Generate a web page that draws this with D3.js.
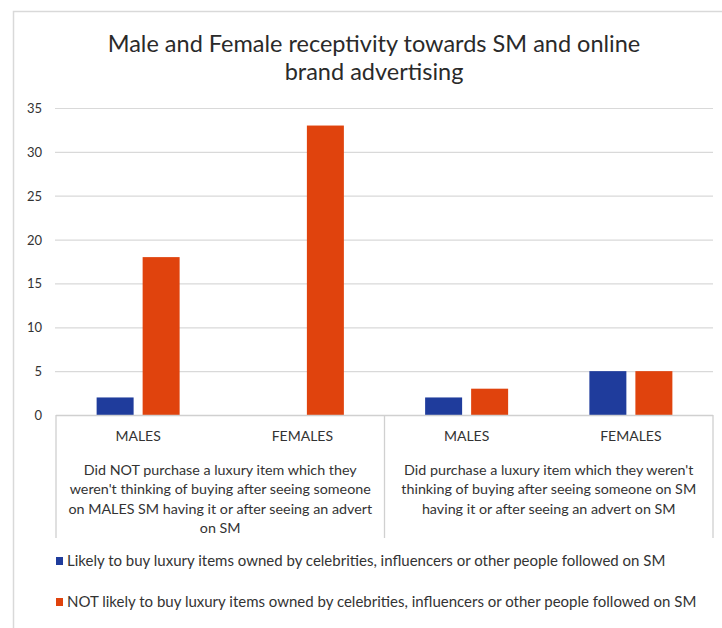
<!DOCTYPE html>
<html>
<head>
<meta charset="utf-8">
<script src="https://cdn.jsdelivr.net/npm/d3@7"></script>
<style>
  html, body { margin: 0; padding: 0; background: #fff; }
  svg text { font-family: Lato, "Open Sans", sans-serif; fill: #333; }
</style>
</head>
<body>
<svg id="chart" width="722" height="628"></svg>
<script>
// Chart data
const categories = ["MALES", "FEMALES", "MALES", "FEMALES"];
const groupOf = [0, 0, 1, 1];
const groupLabels = [
  ["Did NOT purchase a luxury item which they",
   "weren't thinking of buying after seeing someone",
   "on MALES SM having it or after seeing an advert",
   "on SM"],
  ["Did purchase a luxury item which they weren't",
   "thinking of buying after seeing someone on SM",
   "having it or after seeing an advert on SM"]
];
const seriesNames = [
  "Likely to buy luxury items owned by celebrities, influencers or other people followed on SM",
  "NOT likely to buy luxury items owned by celebrities, influencers or other people followed on SM"
];
const likelyValues = [2, 0, 2, 5];
const notLikelyValues = [18, 33, 3, 5];
const yTicks = [0, 5, 10, 15, 20, 25, 30, 35];
const colors = ["#1f3c9c", "#e0430d"];

const svg = d3.select("#chart");

// Outer chart frame
svg.append("rect")
  .attr("x", 13.5).attr("y", 11.5)
  .attr("width", 722).attr("height", 640)
  .attr("fill", "none").attr("stroke", "#d9d9d9").attr("stroke-width", 1.5);

// Title
const titleLines = ["Male and Female receptivity towards SM and online", "brand advertising"];
svg.append("g").selectAll("text").data(titleLines).join("text")
  .attr("x", 374).attr("y", (d, i) => 52 + i * 28).attr("text-anchor", "middle")
  .style("font-size", "23.5px").style("fill", "#2a2a2a")
  .text(d => d);

const plotLeft = 56, plotRight = 713;
const y = d3.scaleLinear().domain([0, 35]).range([415, 108]);
const x0 = d3.scaleBand().domain(d3.range(categories.length)).range([plotLeft, plotRight]).padding(0);
const x1 = d3.scaleBand().domain([0, 1]).range([0, 83]).paddingInner(0.196).paddingOuter(0);
const innerOffset = (x0.bandwidth() - 83) / 2;

// Gridlines
svg.append("g").selectAll("line").data(yTicks.filter(t => t > 0)).join("line")
  .attr("x1", plotLeft - 1).attr("x2", plotRight)
  .attr("y1", d => y(d) + 0.5).attr("y2", d => y(d) + 0.5)
  .attr("stroke", "#d9d9d9").attr("stroke-width", 1.2);

// Y tick labels
svg.append("g").selectAll("text").data(yTicks).join("text")
  .attr("x", 42).attr("y", d => y(d) + 5)
  .attr("text-anchor", "end").style("font-size", "13px")
  .text(d => d);

// Bars
const barData = [];
categories.forEach((c, i) => {
  barData.push({ cat: i, s: 0, v: likelyValues[i] });
  barData.push({ cat: i, s: 1, v: notLikelyValues[i] });
});
svg.append("g").selectAll("rect").data(barData.filter(d => d.v > 0)).join("rect")
  .attr("x", d => x0(d.cat) + innerOffset + x1(d.s))
  .attr("width", x1.bandwidth())
  .attr("y", d => y(d.v))
  .attr("height", d => y(0) - y(d.v))
  .attr("fill", d => colors[d.s]);

// Category axis: baseline and group dividers
const axisG = svg.append("g").attr("stroke", "#d0d0d0").attr("stroke-width", 1.3);
axisG.append("line").attr("x1", plotLeft).attr("x2", plotRight).attr("y1", 415.5).attr("y2", 415.5);
[plotLeft, x0(2), plotRight].forEach(px => {
  axisG.append("line").attr("x1", px).attr("x2", px).attr("y1", 415).attr("y2", 538);
});

// Category labels
svg.append("g").selectAll("text").data(categories).join("text")
  .attr("x", (d, i) => x0(i) + x0.bandwidth() / 2)
  .attr("y", 441).attr("text-anchor", "middle").style("font-size", "14px")
  .text(d => d);

// Group labels
groupLabels.forEach((lines, g) => {
  const idx = groupOf.map((gg, i) => gg === g ? i : -1).filter(i => i >= 0);
  const cx = (x0(idx[0]) + x0(idx[idx.length - 1]) + x0.bandwidth()) / 2;
  svg.append("g").selectAll("text").data(lines).join("text")
    .attr("x", cx).attr("y", (d, i) => 475 + i * 19.3)
    .attr("text-anchor", "middle").style("font-size", "14.3px")
    .text(d => d);
});

// Legend
const legend = svg.append("g").selectAll("g").data(seriesNames).join("g")
  .attr("transform", (d, i) => `translate(56, ${561 + i * 41})`);
legend.append("rect").attr("x", 0).attr("y", -4).attr("width", 7).attr("height", 8)
  .attr("fill", (d, i) => colors[i]);
legend.append("text").attr("x", 11).attr("y", 5).style("font-size", "15px")
  .text(d => d);
</script>
</body>
</html>
